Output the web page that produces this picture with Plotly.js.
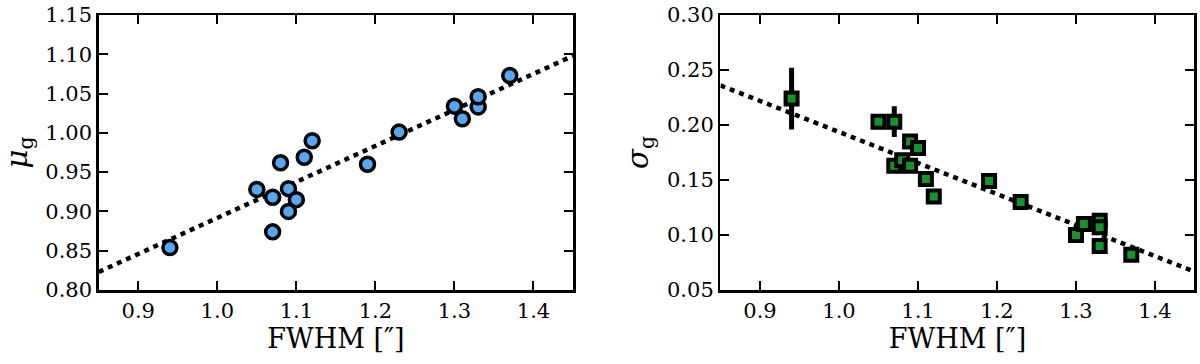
<!DOCTYPE html>
<html>
<head>
<meta charset="utf-8">
<script src="https://cdn.plot.ly/plotly-3.0.1.min.js"></script>
<style>
  html, body { margin: 0; padding: 0; background: #fff; }
  #chart { width: 1200px; height: 364px; }
</style>
</head>
<body>
<div id="chart"></div>
<script>
// seeing FWHM (arcsec) for each image
const fwhmMu = [0.94, 1.05, 1.07, 1.07, 1.08, 1.09, 1.09, 1.10, 1.11, 1.12, 1.19, 1.23, 1.30, 1.31, 1.33, 1.33, 1.37];
const muG = [0.854, 0.928, 0.918, 0.874, 0.962, 0.929, 0.900, 0.915, 0.969, 0.990, 0.960, 1.001, 1.034, 1.018, 1.033, 1.046, 1.073];
const muErr = [0.009, 0.003, 0.003, 0.003, 0.003, 0.003, 0.003, 0.003, 0.003, 0.003, 0.003, 0.003, 0.003, 0.003, 0.003, 0.003, 0.003];

const fwhmSigma = [0.94, 1.05, 1.07, 1.07, 1.08, 1.09, 1.09, 1.10, 1.11, 1.12, 1.19, 1.23, 1.30, 1.31, 1.33, 1.33, 1.33, 1.37];
const sigmaG = [0.224, 0.203, 0.203, 0.163, 0.168, 0.185, 0.163, 0.179, 0.151, 0.135, 0.149, 0.130, 0.100, 0.110, 0.113, 0.107, 0.090, 0.082];
const sigmaErr = [0.028, 0.003, 0.014, 0.003, 0.003, 0.003, 0.003, 0.003, 0.003, 0.003, 0.003, 0.003, 0.003, 0.003, 0.003, 0.003, 0.003, 0.003];

// linear fits, read at the ends of the x range
const fitX = [0.85, 1.45];
const fitMu = [0.823, 1.098];
const fitSigma = [0.236, 0.0667];

const xTicks = [0.9, 1.0, 1.1, 1.2, 1.3, 1.4];
const muTicks = [0.80, 0.85, 0.90, 0.95, 1.00, 1.05, 1.10, 1.15];
const sigmaTicks = [0.05, 0.10, 0.15, 0.20, 0.25, 0.30];

const serif = 'DejaVu Serif';
const dotted = { color: '#000', width: 4.5, dash: '5px,5px' };

const traces = [
    { x: fitX, y: fitMu, mode: 'lines', line: dotted, xaxis: 'x', yaxis: 'y', hoverinfo: 'skip' },
    {
        x: fwhmMu, y: muG, mode: 'markers', xaxis: 'x', yaxis: 'y',
        error_y: { type: 'data', array: muErr, color: '#000', thickness: 3, width: 0 },
        marker: { symbol: 'circle', size: 14, color: '#53a8f5', line: { color: '#000', width: 3.5 } }
    },
    { x: fitX, y: fitSigma, mode: 'lines', line: dotted, xaxis: 'x2', yaxis: 'y2', hoverinfo: 'skip' },
    {
        x: fwhmSigma, y: sigmaG, mode: 'markers', xaxis: 'x2', yaxis: 'y2',
        error_y: { type: 'data', array: sigmaErr, color: '#000', thickness: 5, width: 0 },
        marker: { symbol: 'square', size: 12, color: '#13952b', line: { color: '#000', width: 4 } }
    }
];

function xAxis(domain, anchor) {
    return {
        domain: domain, anchor: anchor, range: [0.85, 1.45],
        tickmode: 'array', tickvals: xTicks, tickformat: '.1f',
        ticks: 'inside', ticklen: 9, tickwidth: 2, tickcolor: '#000',
        showline: true, linecolor: '#000', linewidth: 2.5, mirror: 'ticks',
        showgrid: false, zeroline: false,
        tickfont: { family: serif, size: 21, color: '#000' },
        title: { text: 'FWHM [″]', font: { family: serif, size: 27, color: '#000' }, standoff: 4 }
    };
}

function yAxis(anchor, range, ticks, title) {
    return {
        anchor: anchor, domain: [0, 1], range: range,
        tickmode: 'array', tickvals: ticks, tickformat: '.2f',
        ticks: 'inside', ticklen: 9, tickwidth: 2, tickcolor: '#000',
        showline: true, linecolor: '#000', linewidth: 2.5, mirror: 'ticks',
        showgrid: false, zeroline: false,
        tickfont: { family: serif, size: 21, color: '#000' },
        title: { text: title, font: { family: serif, size: 29, color: '#000' }, standoff: 10 }
    };
}

const layout = {
    width: 1200, height: 364,
    margin: { l: 0, r: 0, t: 15, b: 74 },
    font: { family: serif, color: '#000' },
    paper_bgcolor: '#fff', plot_bgcolor: '#fff',
    showlegend: false,
    xaxis: xAxis([0.0823, 0.4775], 'y'),
    yaxis: yAxis('x', [0.80, 1.15], muTicks, '<i>μ</i><sub>g</sub>'),
    xaxis2: xAxis([0.6004, 0.9954], 'y2'),
    yaxis2: yAxis('x2', [0.05, 0.30], sigmaTicks, '<i>σ</i><sub>g</sub>')
};

Plotly.newPlot('chart', traces, layout, { staticPlot: true });
</script>
</body>
</html>
